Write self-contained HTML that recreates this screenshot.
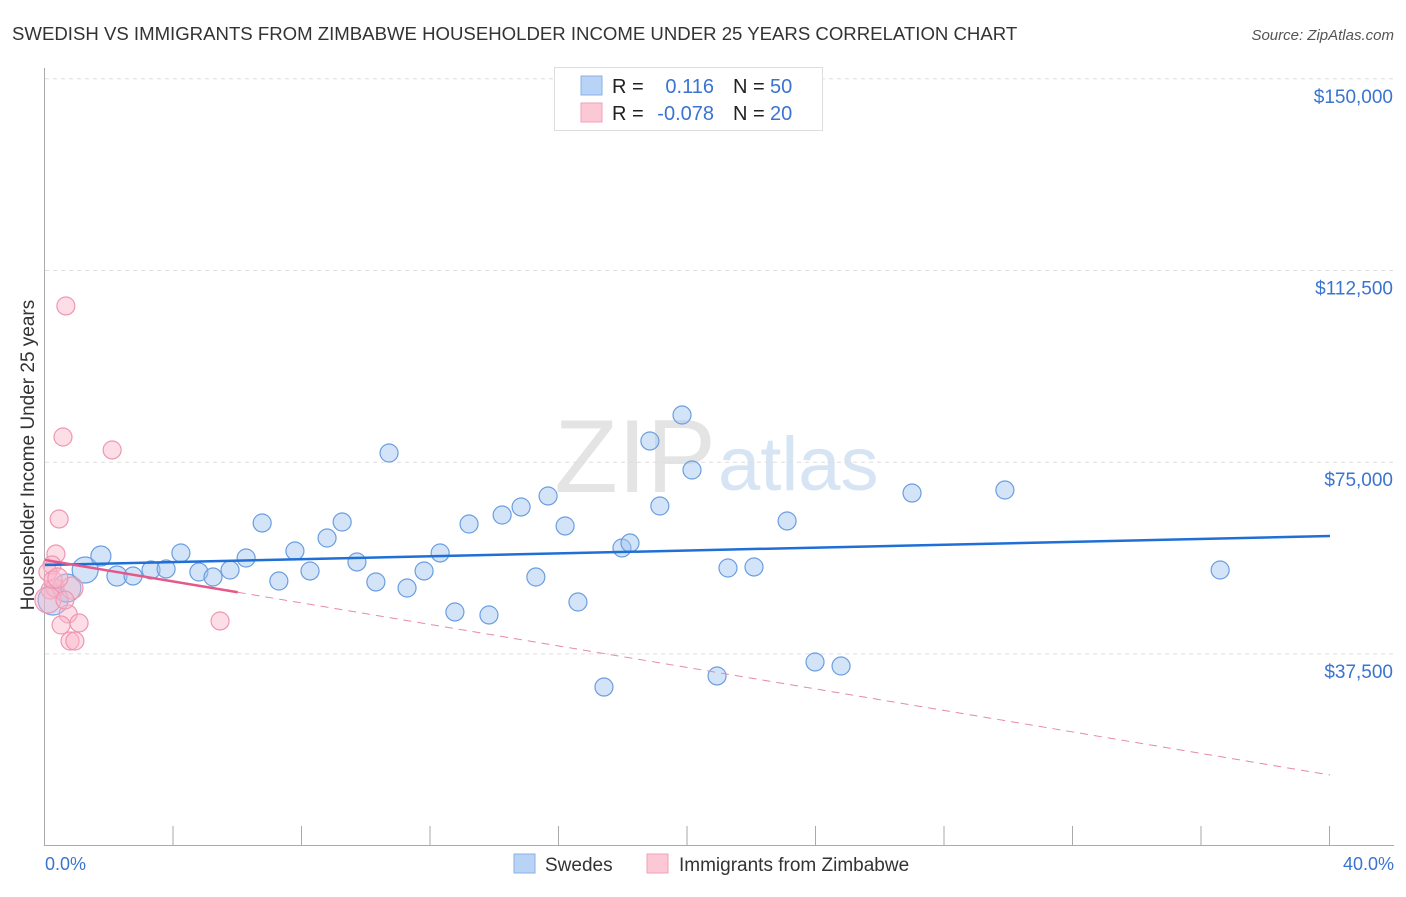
<!DOCTYPE html>
<html><head><meta charset="utf-8"><style>
body{margin:0;background:#fff;font-family:"Liberation Sans",sans-serif;}
svg text{font-family:"Liberation Sans",sans-serif;}
</style></head><body>
<svg id="chart" width="1406" height="892" xmlns="http://www.w3.org/2000/svg">
<text x="12" y="40" font-size="18.6" fill="#333">SWEDISH VS IMMIGRANTS FROM ZIMBABWE HOUSEHOLDER INCOME UNDER 25 YEARS CORRELATION CHART</text>
<text x="1394" y="40" font-size="15" fill="#555" text-anchor="end" font-style="italic">Source: ZipAtlas.com</text>
<text x="716" y="492" font-size="104" fill="#e4e4e4" text-anchor="end" font-family="Liberation Serif">ZIP</text>
<text x="718" y="490" font-size="76" fill="#d6e4f4">atlas</text>
<g id="grid"></g>
<g id="axes"></g>
<g id="marks"></g>
<text transform="translate(34,455) rotate(-90)" font-size="19" fill="#333" text-anchor="middle">Householder Income Under 25 years</text>
<text x="45" y="870" font-size="18" fill="#3a74d0">0.0%</text>
<text x="1394" y="870" font-size="18" fill="#3a74d0" text-anchor="end">40.0%</text>
<g>
<rect x="554.5" y="67.5" width="268" height="63" fill="#fff" stroke="#ddd"/>
<rect x="581" y="76" width="21" height="19" fill="#b8d3f5" stroke="#8ab0e6"/>
<rect x="581" y="103" width="21" height="19" fill="#fcc8d6" stroke="#f0a0b8"/>
<text x="612" y="93" font-size="20" fill="#222">R =</text><text x="714" y="93" font-size="20" fill="#3a74d0" text-anchor="end">0.116</text>
<text x="733" y="93" font-size="20" fill="#222">N =</text><text x="770" y="93" font-size="20" fill="#3a74d0">50</text>
<text x="612" y="120" font-size="20" fill="#222">R =</text><text x="714" y="120" font-size="20" fill="#3a74d0" text-anchor="end">-0.078</text>
<text x="733" y="120" font-size="20" fill="#222">N =</text><text x="770" y="120" font-size="20" fill="#3a74d0">20</text>
</g>
<g>
<rect x="514" y="854" width="21" height="19" fill="#b8d3f5" stroke="#8ab0e6"/>
<text x="545" y="871" font-size="19" fill="#333">Swedes</text>
<rect x="647" y="854" width="21" height="19" fill="#fcc8d6" stroke="#f0a0b8"/>
<text x="679" y="871" font-size="19" fill="#333">Immigrants from Zimbabwe</text>
</g>
</svg>
<script>
const yTicks=[37500,75000,112500,150000];
const yTickLabels=["$37,500","$75,000","$112,500","$150,000"];
const swedesX=[0.25,0.68,1.25,1.74,2.24,2.74,3.30,3.77,4.23,4.79,5.23,5.76,6.26,6.76,7.28,7.78,8.25,8.78,9.25,9.71,10.30,10.71,11.27,11.80,12.30,12.76,13.20,13.82,14.23,14.82,15.28,15.66,16.19,16.59,17.40,17.96,18.21,18.83,19.14,19.83,20.14,20.92,21.26,22.07,23.10,23.97,24.78,26.99,29.88,36.58];
const swedesY=[48040,50390,53910,56650,52740,52740,53910,54110,57240,53520,52540,53910,56260,63110,51760,57630,53720,60170,63300,55480,51570,76800,50390,53720,57240,45700,62910,45110,64670,66240,52540,68390,62520,47650,31020,58220,59190,79150,66430,84230,73470,33180,54300,54500,63500,35920,35130,68970,69560,53910];
const swedesR=[15,14,13,10,10,9,9,9,9,9,9,9,9,9,9,9,9,9,9,9,9,9,9,9,9,9,9,9,9,9,9,9,9,9,9,9,9,9,9,9,9,9,9,9,9,9,9,9,9,9];
const zimX=[0.65,0.56,2.09,0.44,0.34,0.22,0.09,0.16,0.31,0.84,0.72,0.50,1.06,0.78,0.93,5.45,0.25,0.09,0.40,0.62];
const zimY=[105560,79930,77390,63890,57040,54890,53520,50000,50390,50390,45310,43150,43550,40020,40020,43940,51960,48040,52350,48040];
const zimR=[9,9,9,9,9,9,9,9,9,11,9,9,9,9,9,9,9,13,10,9];
const blueTrend=[54890,60560];
const pinkTrend=[55870,13810];
const pinkSolidEnd=6;
const NS="http://www.w3.org/2000/svg";
const xs=v=>45+v/40*1285;
const ys=v=>845.6-v/37500*191.7;
function mk(tag,attrs,parent){const e=document.createElementNS(NS,tag);for(const k in attrs)e.setAttribute(k,attrs[k]);parent.appendChild(e);return e;}
const grid=document.getElementById('grid'),axes=document.getElementById('axes'),marks=document.getElementById('marks');
yTicks.forEach((t,i)=>{
 const l=mk('line',{x1:45,x2:1394,y1:ys(t),y2:ys(t),stroke:'#ddd','stroke-dasharray':'4,4'},grid);
 
 
 const tx=mk('text',{x:1393,y:ys(t)+24,'font-size':19,fill:'#3a74d0','text-anchor':'end'},axes);
 tx.textContent=yTickLabels[i];
 
 
});
const ya=mk('line',{x1:44.5,x2:44.5,y1:68,y2:846,stroke:'#aaa'},axes);


const xa=mk('line',{x1:44,x2:1394,y1:845.5,y2:845.5,stroke:'#aaa'},axes);


for(let i=1;i<=10;i++){const t=mk('line',{x1:xs(i*4)-0.5,x2:xs(i*4)-0.5,y1:826,y2:846,stroke:'#aaa'},axes);
 
 }
swedesX.forEach((x,i)=>{const c=mk('circle',{cx:xs(x),cy:ys(swedesY[i]),r:swedesR[i],fill:'rgba(160,196,240,0.45)',stroke:'#6a9ee0','stroke-width':1.2},marks);
 
 });
zimX.forEach((x,i)=>{const c=mk('circle',{cx:xs(x),cy:ys(zimY[i]),r:zimR[i],fill:'rgba(250,182,202,0.45)',stroke:'#ee97b2','stroke-width':1.2},marks);
 
 });
const bl=mk('line',{x1:xs(0),y1:ys(blueTrend[0]),x2:xs(40),y2:ys(blueTrend[1]),stroke:'#1f6fd6','stroke-width':2.5},marks);


const pe=pinkTrend[0]+(pinkTrend[1]-pinkTrend[0])*pinkSolidEnd/40;
const pd=mk('line',{x1:xs(pinkSolidEnd),y1:ys(pe),x2:xs(40),y2:ys(pinkTrend[1]),stroke:'#e58aa8','stroke-width':1,'stroke-dasharray':'8,6'},marks);


const ps=mk('line',{x1:xs(0),y1:ys(pinkTrend[0]),x2:xs(pinkSolidEnd),y2:ys(pe),stroke:'#e4588a','stroke-width':2.5},marks);


</script>
</body></html>
